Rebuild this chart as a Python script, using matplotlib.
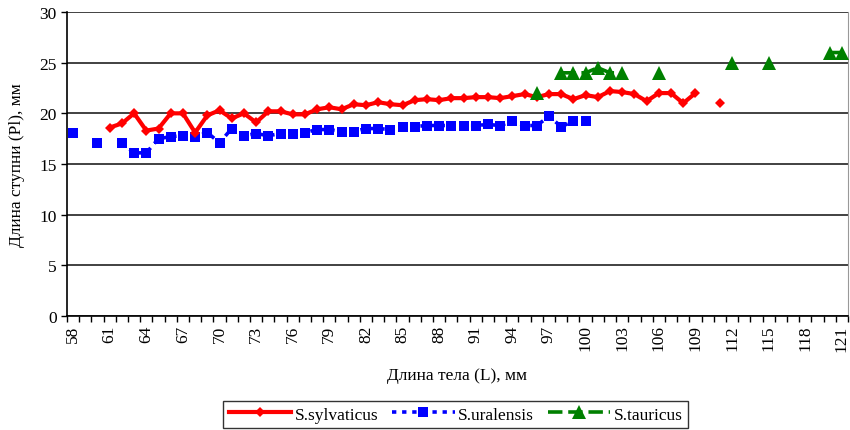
import numpy as np
import matplotlib
matplotlib.use("Agg")
import matplotlib.pyplot as plt
from matplotlib.ticker import MultipleLocator

# body length categories (mm)
sylv_x = list(range(61, 112))
sylv_y = [18.6, 19.0, 20.0, 18.3, 18.5, 20.0, 20.0, 18.1, 19.8, 20.3,
          19.5, 20.0, 19.1, 20.2, 20.2, 19.9, 19.9, 20.4, 20.6, 20.4,
          20.9, 20.8, 21.1, 20.9, 20.8, 21.3, 21.4, 21.3, 21.5, 21.5,
          21.6, 21.6, 21.5, 21.7, 21.9, 21.6, 21.9, 21.9, 21.4, 21.8,
          21.6, 22.2, 22.1, 21.9, 21.2, 22.0, 22.0, 21.0, 22.0, None,
          21.0]

ural_x = list(range(58, 101))
ural_y = [18.1, None, 17.1, None, 17.1, 16.1, 16.1, 17.5, 17.7, 17.8,
          17.7, 18.1, 17.1, 18.5, 17.8, 18.0, 17.8, 18.0, 18.0, 18.1,
          18.4, 18.4, 18.2, 18.2, 18.5, 18.5, 18.4, 18.7, 18.7, 18.8,
          18.8, 18.8, 18.8, 18.8, 18.9, 18.8, 19.2, 18.8, 18.8, 19.7,
          18.7, 19.2, 19.2]

taur_x = list(range(96, 122))
taur_y = [22.0, None, 24.0, 24.0, 24.0, 24.5, 24.0, 24.0, None, None,
          24.0, None, None, None, None, None, 25.0, None, None, 25.0,
          None, None, None, None, 26.0, 26.0]

x_labels = list(range(58, 122, 3))

plt.rcParams['font.family'] = ['Liberation Serif', 'DejaVu Serif']

def arr(v):
    return np.array([np.nan if a is None else a for a in v], dtype=float)

fig = plt.figure(figsize=(8.5, 4.31), dpi=100)
ax = fig.add_axes([0.0788, 0.2645, 0.9188, 0.7053])

ax.plot(sylv_x, arr(sylv_y), color='#ff0000', lw=3, marker='D', ms=5.5,
        mew=0, label='S.sylvaticus', zorder=3)
ax.plot(ural_x, arr(ural_y), color='#0000ff', lw=2.6, ls=(0, (1.2, 1.6)),
        marker='s', ms=7, mew=0, label='S.uralensis', zorder=2)
ax.plot(taur_x, arr(taur_y), color='#008000', lw=2.6, ls=(0, (4, 1.6)),
        marker='^', ms=10, mew=0, label='S.tauricus', zorder=4)

ax.set_xlim(57.5, 121.5)
ax.set_ylim(0, 30)
ax.set_yticks(range(0, 31, 5))
ax.yaxis.grid(True, color='#333333', lw=1.3)
ax.set_axisbelow(True)

ax.set_xticks(x_labels)
ax.set_xticklabels([str(v) for v in x_labels], rotation=90)
ax.xaxis.set_minor_locator(MultipleLocator(1, offset=0.5))
ax.tick_params(axis='x', which='major', length=0, pad=6, labelsize=12.5)
ax.tick_params(axis='x', which='minor', length=4, width=1, direction='out')
ax.tick_params(axis='y', length=4, width=1, labelsize=12.5)

ax.spines['top'].set_visible(False)
ax.spines['right'].set_color('#999999')
ax.spines['left'].set_linewidth(1.2)
ax.spines['bottom'].set_linewidth(1.2)

ax.set_xlabel('Длина тела (L), мм', fontsize=12.5, labelpad=12)
ax.set_ylabel('Длина ступни (Pl), мм', fontsize=12.5, labelpad=10)

leg = fig.legend(loc='upper center', bbox_to_anchor=(0.536, 0.087), ncol=3,
                 fontsize=12.5, frameon=True, fancybox=False, edgecolor='black',
                 handlelength=3.6, columnspacing=0.8, handletextpad=0.2,
                 borderpad=0.3)
leg.get_frame().set_linewidth(1)

fig.savefig('out.png', dpi=100)
